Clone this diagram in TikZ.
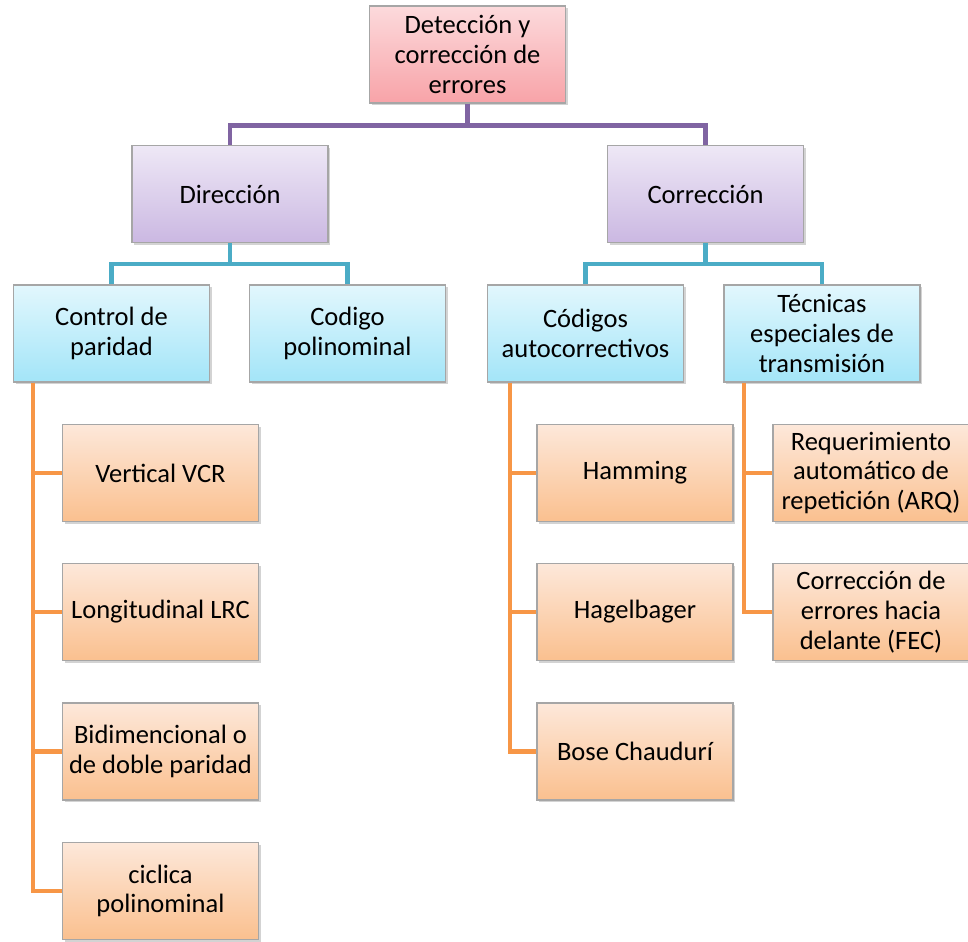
\documentclass[tikz,border=0pt]{standalone}
\usepackage{fontspec}
\setmainfont{Carlito}
\usetikzlibrary{shadows}

\definecolor{linepurple}{HTML}{8064A2}
\definecolor{lineteal}{HTML}{4BACC6}
\definecolor{lineorange}{HTML}{F79646}
\definecolor{pinktop}{HTML}{FCDADC}
\definecolor{pinkbot}{HTML}{F8A3A8}
\definecolor{violettop}{HTML}{EEE8F6}
\definecolor{violetbot}{HTML}{CBB8E2}
\definecolor{cyantop}{HTML}{E2F7FD}
\definecolor{cyanbot}{HTML}{A3E5F8}
\definecolor{orangetop}{HTML}{FDE8DA}
\definecolor{orangebot}{HTML}{FAC08F}

\begin{document}
\begin{tikzpicture}[x=0.02cm,y=-0.02cm,
	box/.style={draw=black!35,line width=0.8pt,minimum width=3.92cm,minimum height=1.94cm,
		inner xsep=1pt,align=center,font=\fontsize{15.1}{16.9}\selectfont,
		drop shadow={shadow xshift=1.2pt,shadow yshift=-1.2pt,opacity=0.35}},
	rootbox/.style={box,top color=pinktop,bottom color=pinkbot},
	midbox/.style={box,top color=violettop,bottom color=violetbot},
	subbox/.style={box,top color=cyantop,bottom color=cyanbot},
	leafbox/.style={box,top color=orangetop,bottom color=orangebot},
	purpleline/.style={draw=linepurple,line width=2.6pt},
	tealline/.style={draw=lineteal,line width=2.4pt},
	orangeline/.style={draw=lineorange,line width=2.4pt}]
	\useasboundingbox (0,0) rectangle (968,941);
	% root and second level
	\node[rootbox] (root) at (467.5,54.5) {Detección y\\corrección de\\errores};
	\node[midbox] (dir) at (230,194) {Dirección};
	\node[midbox] (corr) at (705.5,194) {Corrección};
	% third level
	\node[subbox] (ctrl) at (111.5,333.5) {Control de\\paridad};
	\node[subbox] (poli) at (347.5,333.5) {Codigo\\polinominal};
	\node[subbox] (auto) at (585.5,333.5) {Códigos\\autocorrectivos};
	\node[subbox] (tec) at (822,333.5) {Técnicas\\especiales de\\transmisión};
	% leaves
	\node[leafbox] (vcr) at (160.5,473) {Vertical VCR};
	\node[leafbox] (lrc) at (160.5,612) {Longitudinal LRC};
	\node[leafbox] (bid) at (160.5,751.5) {Bidimencional o\\de doble paridad};
	\node[leafbox] (cic) at (160.5,891) {ciclica\\polinominal};
	\node[leafbox] (ham) at (635,473) {Hamming};
	\node[leafbox] (hag) at (635,612) {Hagelbager};
	\node[leafbox] (bose) at (635,751.5) {Bose Chaudurí};
	\node[leafbox] (arq) at (871,473) {Requerimiento\\automático de\\repetición (ARQ)};
	\node[leafbox] (fec) at (871,612) {Corrección de\\errores hacia\\delante (FEC)};
	% connectors
	\draw[purpleline] (root.south) -- ++(0,22) -| (dir.north);
	\draw[purpleline] (root.south) -- ++(0,22) -| (corr.north);
	\draw[tealline] (dir.south) -- ++(0,21) -| (ctrl.north);
	\draw[tealline] (dir.south) -- ++(0,21) -| (poli.north);
	\draw[tealline] (corr.south) -- ++(0,21) -| (auto.north);
	\draw[tealline] (corr.south) -- ++(0,21) -| (tec.north);
	\coordinate (t1) at ([xshift=0.4cm]ctrl.south west);
	\coordinate (t2) at ([xshift=0.46cm]auto.south west);
	\coordinate (t3) at ([xshift=0.42cm]tec.south west);
	\draw[orangeline] (t1) |- (cic.west);
	\foreach \n in {vcr,lrc,bid} \draw[orangeline] (\n.west) -- (\n.west -| t1);
	\draw[orangeline] (t2) |- (bose.west);
	\foreach \n in {ham,hag} \draw[orangeline] (\n.west) -- (\n.west -| t2);
	\draw[orangeline] (t3) |- (fec.west);
	\draw[orangeline] (arq.west) -- (arq.west -| t3);
\end{tikzpicture}
\end{document}
